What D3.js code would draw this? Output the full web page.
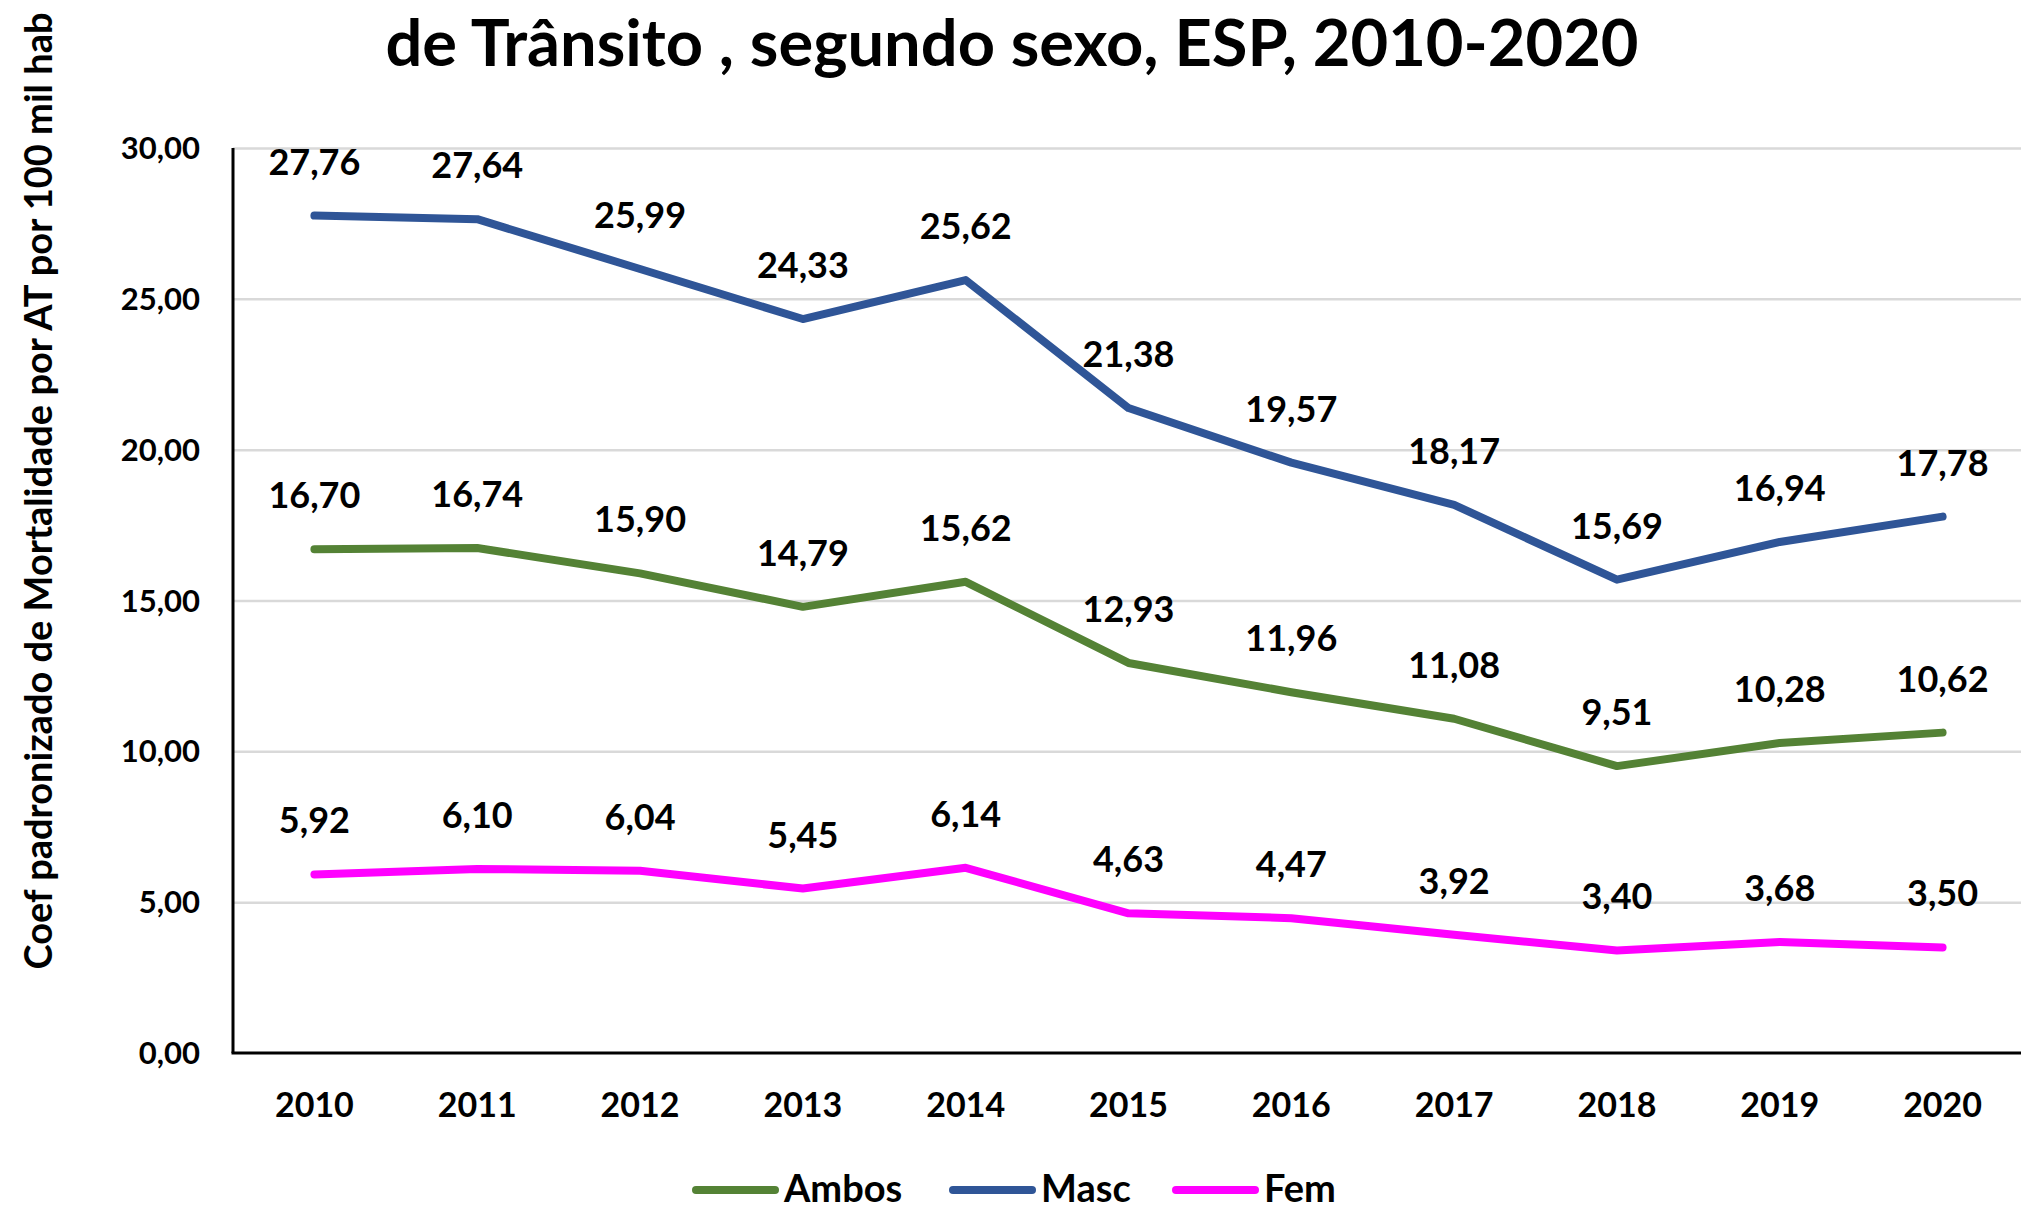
<!DOCTYPE html>
<html>
<head>
<meta charset="utf-8">
<script src="https://cdn.jsdelivr.net/npm/d3@7"></script>
<style>
	body { margin: 0; background: #fff; }
	text { font-family: Lato, "Open Sans", sans-serif; font-weight: bold; fill: #000; }
	.grid line { stroke: #d9d9d9; stroke-width: 2.5; }
	.grid path { display: none; }
	.line { fill: none; stroke-width: 8; stroke-linecap: round; stroke-linejoin: round; }
</style>
</head>
<body>
<svg id="chart" width="2021" height="1210"></svg>
<script>
let years	= ["2010", "2011", "2012", "2013", "2014", "2015", "2016", "2017", "2018", "2019", "2020"];
let ambos	= [16.70, 16.74, 15.90, 14.79, 15.62, 12.93, 11.96, 11.08, 9.51, 10.28, 10.62];
let masc	= [27.76, 27.64, 25.99, 24.33, 25.62, 21.38, 19.57, 18.17, 15.69, 16.94, 17.78];
let fem		= [5.92, 6.10, 6.04, 5.45, 6.14, 4.63, 4.47, 3.92, 3.40, 3.68, 3.50];
let yTicks	= [0, 5, 10, 15, 20, 25, 30];

let series = [
	{ name: "Ambos", values: ambos, color: "#548235" },
	{ name: "Masc", values: masc, color: "#2f5597" },
	{ name: "Fem", values: fem, color: "#ff00ff" }
];

let margin	= { left: 233, top: 148, right: 2024, bottom: 1053 };
let fmt		= (v) => d3.format(".2f")(v).replace(".", ",");

let x = d3.scaleBand().domain(years).range([margin.left, margin.right]);
let y = d3.scaleLinear().domain([0, 30]).range([margin.bottom, margin.top]);
let cx = (i) => x(years[i]) + x.bandwidth() / 2;

let svg = d3.select("#chart");

// title (first line is cut off in the source)
svg.append("text")
	.attr("x", 1012).attr("y", 66)
	.attr("text-anchor", "middle")
	.style("font-size", "65px")
	.text("de Trânsito , segundo sexo, ESP, 2010-2020");

// y axis title
svg.append("text")
	.attr("transform", "translate(52,491) rotate(-90)")
	.attr("text-anchor", "middle")
	.style("font-size", "38px")
	.text("Coef padronizado de Mortalidade por AT por 100 mil hab");

// grid
svg.append("g")
	.attr("class", "grid")
	.attr("transform", "translate(" + margin.left + ",0)")
	.call(d3.axisRight(y).tickValues(yTicks.slice(1)).tickSize(margin.right - margin.left).tickFormat(""));

// y tick labels
svg.append("g").selectAll("text")
	.data(yTicks)
	.enter().append("text")
		.attr("x", 200)
		.attr("y", (d) => y(d) + 11)
		.attr("text-anchor", "end")
		.style("font-size", "31px")
		.text((d) => fmt(d));

// axes lines
svg.append("line")
	.attr("x1", margin.left).attr("x2", margin.left)
	.attr("y1", margin.top).attr("y2", margin.bottom)
	.attr("stroke", "#000").attr("stroke-width", 3);
svg.append("line")
	.attr("x1", margin.left - 1.5).attr("x2", margin.right)
	.attr("y1", margin.bottom).attr("y2", margin.bottom)
	.attr("stroke", "#000").attr("stroke-width", 3);

// x tick labels
svg.append("g").selectAll("text")
	.data(years)
	.enter().append("text")
		.attr("x", (d) => x(d) + x.bandwidth() / 2)
		.attr("y", 1117)
		.attr("text-anchor", "middle")
		.style("font-size", "34px")
		.text((d) => d);

let line = d3.line()
	.x((d, i) => cx(i))
	.y((d) => y(d));

series.forEach((s) => {
	svg.append("path")
		.datum(s.values)
		.attr("class", "line")
		.attr("stroke", s.color)
		.attr("d", line);
});

// data labels
series.forEach((s) => {
	svg.append("g").selectAll("text")
		.data(s.values)
		.enter().append("text")
			.attr("x", (d, i) => cx(i))
			.attr("y", (d) => y(d) - 41)
			.attr("text-anchor", "middle")
			.style("font-size", "36px")
			.text((d) => fmt(d));
});

// legend
let legendX = [692, 949, 1172];
let legend = svg.append("g").selectAll("g")
	.data(series)
	.enter().append("g")
		.attr("transform", (d, i) => "translate(" + legendX[i] + ",1190)");

legend.append("line")
	.attr("x1", 4).attr("x2", 83)
	.attr("stroke", (d) => d.color)
	.attr("stroke-width", 8)
	.attr("stroke-linecap", "round");

legend.append("text")
	.attr("x", 92)
	.attr("y", 12)
	.style("font-size", "38px")
	.text((d) => d.name);
</script>
</body>
</html>
